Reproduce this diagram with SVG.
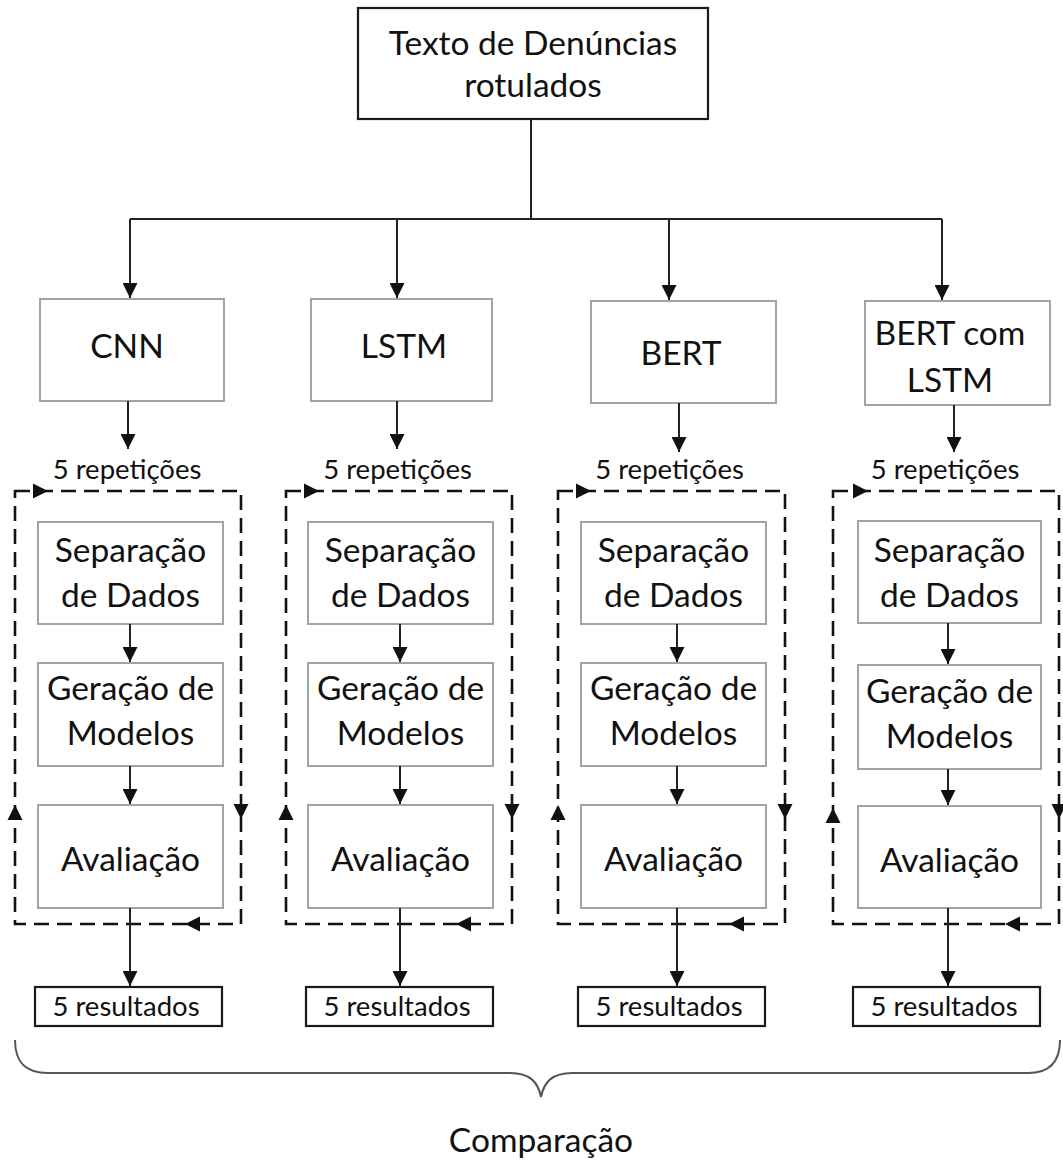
<svg xmlns="http://www.w3.org/2000/svg" width="1063" height="1162" viewBox="0 0 1063 1162">
  <defs>
    <marker id="ah" viewBox="0 0 10 10" refX="10" refY="5" markerWidth="15" markerHeight="15" markerUnits="userSpaceOnUse" orient="auto">
      <path d="M0,0 L10,5 L0,10 Z" fill="#111"/>
    </marker>
    <path id="tri" d="M0,0 L-15,-7.5 L-15,7.5 Z" fill="#111"/>
  </defs>
  <style>
    text { font-family: Lato, "Liberation Sans", sans-serif; fill: #111; text-anchor: middle; }
    .lbl { font-size: 33.5px; }
    .small { font-size: 27.5px; }
    .gbox { fill: #fff; stroke: #a3a3a3; stroke-width: 2; }
    .kbox { fill: #fff; stroke: #1a1a1a; stroke-width: 2.2; }
    .line { fill: none; stroke: #222; stroke-width: 2; }
    .arr { fill: none; stroke: #222; stroke-width: 2; marker-end: url(#ah); }
    .dash { fill: none; stroke: #111; stroke-width: 2.6; stroke-dasharray: 15 8; }
    .brace { fill: none; stroke: #555; stroke-width: 2; }
  </style>

  <!-- source node -->
  <g id="source">
    <rect class="kbox" x="358" y="8" width="350" height="111"/>
    <text class="lbl" x="533" y="55">Texto de Denúncias</text>
    <text class="lbl" x="533" y="97">rotulados</text>
  </g>

  <!-- model nodes -->
  <g id="cnn">
    <rect class="gbox" x="40" y="299" width="184" height="102"/>
    <text class="lbl" x="127" y="358">CNN</text>
  </g>
  <g id="lstm">
    <rect class="gbox" x="311" y="299" width="181" height="102"/>
    <text class="lbl" x="404" y="358">LSTM</text>
  </g>
  <g id="bert">
    <rect class="gbox" x="591" y="301" width="185" height="102"/>
    <text class="lbl" x="681" y="365">BERT</text>
  </g>
  <g id="bert-lstm">
    <rect class="gbox" x="865" y="301" width="185" height="104"/>
    <text class="lbl" x="950" y="345">BERT com</text>
    <text class="lbl" x="950" y="392">LSTM</text>
  </g>

  <!-- column 1 pipeline -->
  <g id="loop-cnn">
    <text class="small" x="127" y="479">5 repetições</text>
    <path class="dash" d="M15,491 H241 V924 H15 Z"/>
    <use href="#tri" transform="translate(48,491)"/>
    <use href="#tri" transform="translate(15,805) rotate(-90)"/>
    <use href="#tri" transform="translate(241,819) rotate(90)"/>
    <use href="#tri" transform="translate(185,924) rotate(180)"/>
  </g>
  <g id="sep-cnn">
    <rect class="gbox" x="38" y="522" width="185" height="102"/>
    <text class="lbl" x="130.5" y="562">Separação</text>
    <text class="lbl" x="130.5" y="607">de Dados</text>
  </g>
  <g id="ger-cnn">
    <rect class="gbox" x="38" y="663" width="185" height="103"/>
    <text class="lbl" x="130.5" y="700">Geração de</text>
    <text class="lbl" x="130.5" y="745">Modelos</text>
  </g>
  <g id="ava-cnn">
    <rect class="gbox" x="38" y="805" width="185" height="103"/>
    <text class="lbl" x="130.5" y="871">Avaliação</text>
  </g>
  <g id="res-cnn">
    <rect class="kbox" x="35" y="987" width="187" height="39"/>
    <text class="small" x="126" y="1016">5 resultados</text>
  </g>

  <!-- column 2 pipeline -->
  <g id="loop-lstm">
    <text class="small" x="397.5" y="479">5 repetições</text>
    <path class="dash" d="M286,491 H512 V924 H286 Z"/>
    <use href="#tri" transform="translate(319,491)"/>
    <use href="#tri" transform="translate(286,805) rotate(-90)"/>
    <use href="#tri" transform="translate(512,819) rotate(90)"/>
    <use href="#tri" transform="translate(456,924) rotate(180)"/>
  </g>
  <g id="sep-lstm">
    <rect class="gbox" x="308" y="522" width="185" height="102"/>
    <text class="lbl" x="400.5" y="562">Separação</text>
    <text class="lbl" x="400.5" y="607">de Dados</text>
  </g>
  <g id="ger-lstm">
    <rect class="gbox" x="308" y="663" width="185" height="103"/>
    <text class="lbl" x="400.5" y="700">Geração de</text>
    <text class="lbl" x="400.5" y="745">Modelos</text>
  </g>
  <g id="ava-lstm">
    <rect class="gbox" x="308" y="805" width="185" height="103"/>
    <text class="lbl" x="400.5" y="871">Avaliação</text>
  </g>
  <g id="res-lstm">
    <rect class="kbox" x="306" y="987" width="187" height="39"/>
    <text class="small" x="397" y="1016">5 resultados</text>
  </g>

  <!-- column 3 pipeline -->
  <g id="loop-bert">
    <text class="small" x="669.5" y="479">5 repetições</text>
    <path class="dash" d="M558,491 H785 V924 H558 Z"/>
    <use href="#tri" transform="translate(591,491)"/>
    <use href="#tri" transform="translate(558,805) rotate(-90)"/>
    <use href="#tri" transform="translate(785,819) rotate(90)"/>
    <use href="#tri" transform="translate(729,924) rotate(180)"/>
  </g>
  <g id="sep-bert">
    <rect class="gbox" x="581" y="522" width="185" height="102"/>
    <text class="lbl" x="673.5" y="562">Separação</text>
    <text class="lbl" x="673.5" y="607">de Dados</text>
  </g>
  <g id="ger-bert">
    <rect class="gbox" x="581" y="663" width="185" height="103"/>
    <text class="lbl" x="673.5" y="700">Geração de</text>
    <text class="lbl" x="673.5" y="745">Modelos</text>
  </g>
  <g id="ava-bert">
    <rect class="gbox" x="581" y="805" width="185" height="103"/>
    <text class="lbl" x="673.5" y="871">Avaliação</text>
  </g>
  <g id="res-bert">
    <rect class="kbox" x="578" y="987" width="187" height="39"/>
    <text class="small" x="669" y="1016">5 resultados</text>
  </g>

  <!-- column 4 pipeline -->
  <g id="loop-bert-lstm">
    <text class="small" x="945" y="479">5 repetições</text>
    <path class="dash" d="M833,491 H1059 V924 H833 Z"/>
    <use href="#tri" transform="translate(868,491)"/>
    <use href="#tri" transform="translate(833,808) rotate(-90)"/>
    <use href="#tri" transform="translate(1059,819) rotate(90)"/>
    <use href="#tri" transform="translate(1005,924) rotate(180)"/>
  </g>
  <g id="sep-bert-lstm">
    <rect class="gbox" x="858" y="521" width="183" height="102"/>
    <text class="lbl" x="949.5" y="562">Separação</text>
    <text class="lbl" x="949.5" y="607">de Dados</text>
  </g>
  <g id="ger-bert-lstm">
    <rect class="gbox" x="858" y="665" width="183" height="104"/>
    <text class="lbl" x="949.5" y="703">Geração de</text>
    <text class="lbl" x="949.5" y="748">Modelos</text>
  </g>
  <g id="ava-bert-lstm">
    <rect class="gbox" x="858" y="806" width="183" height="102"/>
    <text class="lbl" x="949.5" y="872">Avaliação</text>
  </g>
  <g id="res-bert-lstm">
    <rect class="kbox" x="853" y="987" width="187" height="39"/>
    <text class="small" x="944" y="1016">5 resultados</text>
  </g>

  <!-- connectors -->
  <g id="connectors">
    <path class="line" d="M531,119 V219 M130,219 H942"/>
    <path class="arr" d="M130,219 V298"/>
    <path class="arr" d="M397,219 V298"/>
    <path class="arr" d="M669,219 V300"/>
    <path class="arr" d="M942,219 V300"/>

    <path class="arr" d="M128,401 V449"/>
    <path class="arr" d="M397,401 V449"/>
    <path class="arr" d="M679,403 V452"/>
    <path class="arr" d="M954,405 V452"/>

    <path class="arr" d="M130,624 V662"/>
    <path class="arr" d="M130,766 V804"/>
    <path class="arr" d="M130,908 V986"/>

    <path class="arr" d="M400,624 V662"/>
    <path class="arr" d="M400,766 V804"/>
    <path class="arr" d="M400,908 V986"/>

    <path class="arr" d="M677,624 V662"/>
    <path class="arr" d="M677,766 V804"/>
    <path class="arr" d="M677,908 V986"/>

    <path class="arr" d="M948,623 V664"/>
    <path class="arr" d="M948,769 V805"/>
    <path class="arr" d="M948,908 V986"/>
  </g>

  <!-- closing brace and label -->
  <g id="comparison">
    <path class="brace" d="M15,1040 C15,1062 25,1073 48,1073 H510 C530,1073 538,1082 541,1097 C544,1082 552,1073 572,1073 H1028 C1050,1073 1060,1062 1060,1040"/>
    <text class="lbl" x="541" y="1152">Comparação</text>
  </g>
</svg>
